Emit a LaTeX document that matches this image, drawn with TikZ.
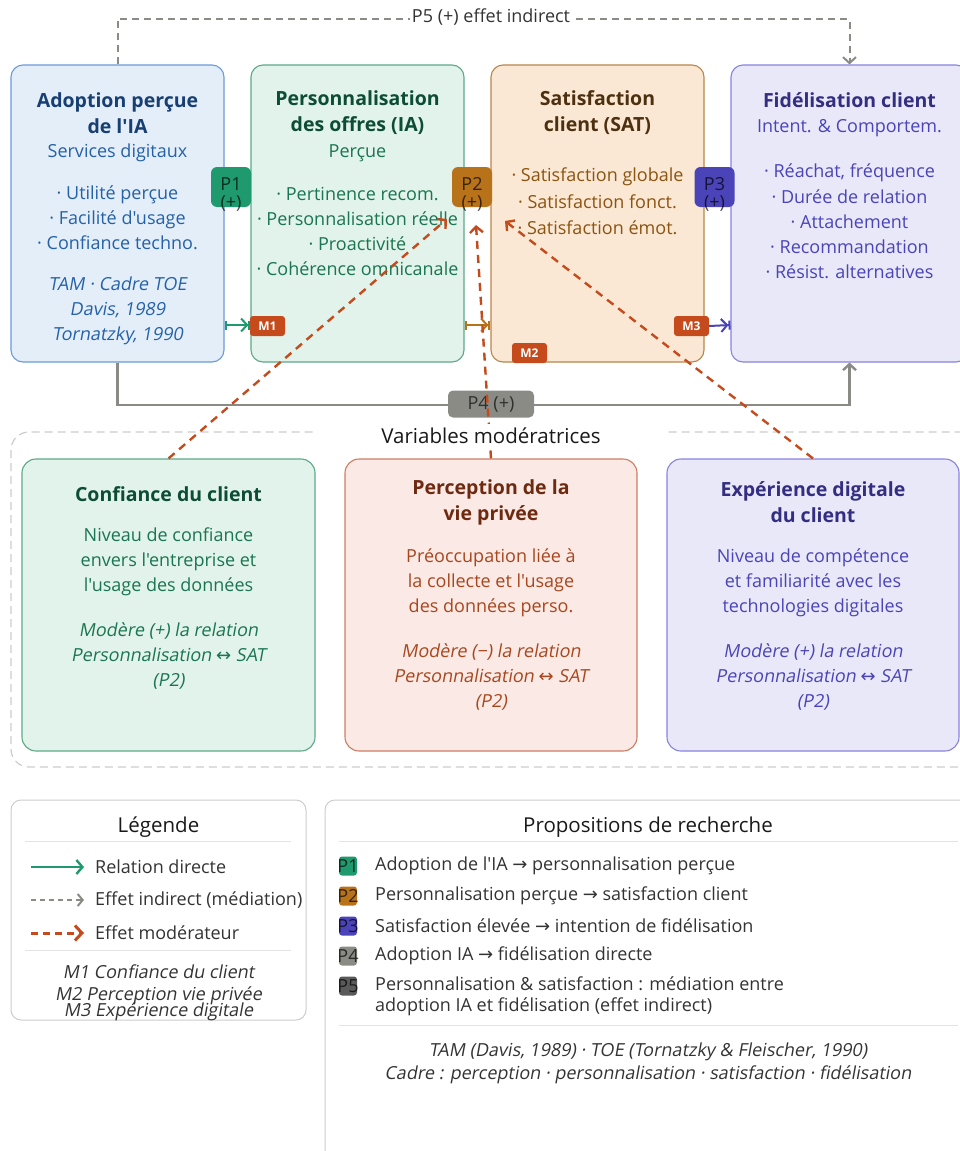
\documentclass[tikz,border=0pt]{standalone}
\usepackage{fontspec}
\newfontfamily\osfont{Open Sans}
\newfontfamily\osslant{Open Sans}[FakeSlant=0.18]
\newfontfamily\arrfont{DejaVu Sans}
\usetikzlibrary{arrows.meta,calc}
\definecolor{cAfill}{HTML}{E4EEF9}
\definecolor{cAdraw}{HTML}{6A9AD8}
\definecolor{cAtit}{HTML}{173F73}
\definecolor{cAtxt}{HTML}{2461A8}
\definecolor{cBfill}{HTML}{E1F3EA}
\definecolor{cBdraw}{HTML}{5CA889}
\definecolor{cBtit}{HTML}{0E4D35}
\definecolor{cBtxt}{HTML}{1B7552}
\definecolor{cCfill}{HTML}{FAE8D4}
\definecolor{cCdraw}{HTML}{B8864A}
\definecolor{cCtit}{HTML}{4D3010}
\definecolor{cCtxt}{HTML}{8B5412}
\definecolor{cDfill}{HTML}{E9E8F8}
\definecolor{cDdraw}{HTML}{8782DD}
\definecolor{cDtit}{HTML}{332E82}
\definecolor{cDtxt}{HTML}{4A44B8}
\definecolor{cPfill}{HTML}{FAE9E4}
\definecolor{cPdraw}{HTML}{CD7D62}
\definecolor{cPtit}{HTML}{6E2A10}
\definecolor{cPtxt}{HTML}{A8471E}
\definecolor{cP1}{HTML}{1E9A6E}
\definecolor{cP2}{HTML}{B8731A}
\definecolor{cP3}{HTML}{4B44B8}
\definecolor{cP4}{HTML}{8A8B84}
\definecolor{cP5}{HTML}{5A5A5A}
\definecolor{cMod}{HTML}{C54A1C}
\definecolor{cGray}{HTML}{8A8B84}
\definecolor{cFrame}{HTML}{CCCCCC}
\definecolor{cSep}{HTML}{E3E3E3}
\definecolor{cDark}{HTML}{333333}
\newcommand\dgTitle{\osfont\fontsize{19.5}{26}\selectfont\bfseries}
\newcommand\dgBody{\osfont\fontsize{18}{25}\selectfont}
\newcommand\dgIt{\osslant\fontsize{18}{25}\selectfont}
\newcommand\dgHead{\osfont\fontsize{20.5}{24}\selectfont}
\newcommand\dgArr[1]{{\arrfont #1}}
\begin{document}
\begin{tikzpicture}[x=1pt,y=-1pt,
  box/.style={draw, rounded corners=12pt, line width=1.1pt, inner sep=0pt},
  txt/.style={align=center, inner sep=0pt},
  pbadge/.style={rounded corners=6pt, minimum width=40pt, minimum height=40pt, inner sep=0pt},
  pbtext/.style={align=center, inner sep=0pt, font=\osfont\fontsize{18}{18}\selectfont, text=black, text opacity=0.7},
  mbadge/.style={fill=cMod, rounded corners=3pt, minimum width=35pt, minimum height=20pt, inner sep=0pt, text=white, font=\osfont\fontsize{12}{12}\selectfont\bfseries},
  modline/.style={draw=cMod, line width=2.4pt, dash pattern=on 8pt off 6pt, -{Straight Barb[length=6pt,width=13pt]}},
  gapline/.style={line width=2pt, {Bar[width=9pt]}-{Straight Barb[length=6pt,width=13pt]Bar[width=9pt]}},
  sqbadge/.style={rounded corners=3pt, minimum width=18pt, minimum height=19pt, inner sep=0pt},
  sqtext/.style={inner sep=0pt, font=\dgBody, text=black, text opacity=0.7},
  legtext/.style={anchor=west, inner sep=0pt, font=\dgBody, text=cDark},
]
\useasboundingbox (0,0) rectangle (960,1151);
\clip (0,0) rectangle (960,1151);

% ---------- main boxes ----------
\node[box, fill=cAfill, draw=cAdraw, minimum width=213pt, minimum height=297pt] (A) at (117.5,213.5) {};
\node[box, fill=cBfill, draw=cBdraw, minimum width=213pt, minimum height=297pt] (B) at (357.5,213.5) {};
\node[box, fill=cCfill, draw=cCdraw, minimum width=213pt, minimum height=297pt] (C) at (597.5,213.5) {};
\node[box, fill=cDfill, draw=cDdraw, minimum width=237pt, minimum height=297pt] (D) at (849.5,213.5) {};

% box A text
\node[txt, font=\dgTitle, text=cAtit] (At) at (117.5,113) {Adoption perçue\\de l'IA};
\node[txt, font=\dgBody, text=cAtxt] (As) at (117.5,153) {Services digitaux};
\node[txt, font=\dgBody, text=cAtxt] (Ab) at (117.5,218) {· Utilité perçue\\· Facilité d'usage\\· Confiance techno.};
\node[txt, font=\dgIt, text=cAtxt] (Ai) at (117.5,311) {TAM · Cadre TOE\\Davis, 1989\\Tornatzky, 1990};
% box B text
\node[txt, font=\dgTitle, text=cBtit] (Bt) at (357.5,113) {Personnalisation\\des offres (IA)};
\node[txt, font=\dgBody, text=cBtxt] (Bs) at (357.5,153) {Perçue};
\node[txt, font=\dgBody, text=cBtxt] (Bb) at (357.5,231) {· Pertinence recom.\\· Personnalisation réelle\\· Proactivité\\· Cohérence omnicanale};
% box C text
\node[txt, font=\dgTitle, text=cCtit] (Ct) at (597.5,113) {Satisfaction\\client (SAT)};
\node[txt, font=\osfont\fontsize{18}{26.5}\selectfont, text=cCtxt] (Cb) at (597.5,201.5) {· Satisfaction globale\\· Satisfaction fonct.\\· Satisfaction émot.};
% box D text
\node[txt, font=\dgTitle, text=cDtit] (Dt) at (849.5,100) {Fidélisation client};
\node[txt, font=\dgBody, text=cDtxt] (Ds) at (849.5,128) {Intent. \& Comportem.};
\node[txt, font=\osfont\fontsize{18}{25.2}\selectfont, text=cDtxt] (Db) at (849.5,221.5) {· Réachat, fréquence\\· Durée de relation\\· Attachement\\· Recommandation\\· Résist. alternatives};

% ---------- P5 indirect (dashed) ----------
\coordinate (p5y) at (0,19);
\draw[cGray, line width=2pt, dash pattern=on 7pt off 5pt, -{Straight Barb[length=6pt,width=13pt]}]
  (A.north) -- (A.north |- p5y) -- (D.north |- p5y) -- (D.north);
\node[fill=white, inner sep=2pt, font=\dgBody, text=cDark] (p5lab) at (491,17) {P5 (+) effet indirect};

% ---------- P4 direct (solid) ----------
\coordinate (p4y) at (0,405);
\draw[cGray, line width=2.4pt, -{Straight Barb[length=6pt,width=13pt]}]
  (A.south) -- (A.south |- p4y) -- (D.south |- p4y) -- (D.south);
\node[fill=cP4, rounded corners=5pt, minimum width=86pt, minimum height=27pt, inner sep=0pt, font=\dgBody, text=black, text opacity=0.65] (p4) at (491,404) {P4 (+)};

% ---------- gap connectors at y=325 ----------
\coordinate (gy) at (0,325);
\draw[gapline, cP1] (A.east |- gy) -- (B.west |- gy);
\draw[gapline, cP2] (B.east |- gy) -- (C.west |- gy);
\node[mbadge] (m1) at (267.5,326) {M1};
\node[mbadge] (m2) at (529.5,353) {M2};
\node[mbadge] (m3) at (691.5,326) {M3};
\draw[cP3, line width=2pt, -{Straight Barb[length=6pt,width=13pt]Bar[width=9pt]}] (m3.east) -- (D.west |- gy);

% ---------- P badges ----------
\node[pbadge, fill=cP1] (p1) at (231,187) {};
\node[pbtext] (p1t) at (231,194) {P1\\(+)};
\node[pbadge, fill=cP2] (p2) at (472,187) {};
\node[pbtext] (p2t) at (472,194) {P2\\(+)};
\node[pbadge, fill=cP3] (p3) at (714.5,187) {};
\node[pbtext] (p3t) at (714.5,194) {P3\\(+)};

% ---------- moderator region ----------
\draw[cFrame, line width=1.2pt, dash pattern=on 8pt off 5pt, rounded corners=18pt] (11,432) rectangle (985,767);
\node[box, fill=cBfill, draw=cBdraw, minimum width=293pt, minimum height=292pt, rounded corners=14pt] (M1) at (168.5,605) {};
\node[box, fill=cPfill, draw=cPdraw, minimum width=292pt, minimum height=292pt, rounded corners=14pt] (M2) at (491,605) {};
\node[box, fill=cDfill, draw=cDdraw, minimum width=292pt, minimum height=292pt, rounded corners=14pt] (M3) at (813,605) {};

\node[txt, font=\dgTitle, text=cBtit] (M1t) at (168.5,494) {Confiance du client};
\node[txt, font=\dgBody, text=cBtxt] (M1b) at (168.5,562) {Niveau de confiance\\envers l'entreprise et\\l'usage des données};
\node[txt, font=\dgIt, text=cBtxt] (M1i) at (168.5,656) {Modère (+) la relation\\Personnalisation \dgArr{↔} SAT\\(P2)};

\node[txt, font=\dgTitle, text=cPtit] (M2t) at (491,502) {Perception de la\\vie privée};
\node[txt, font=\dgBody, text=cPtxt] (M2b) at (491,583) {Préoccupation liée à\\la collecte et l'usage\\des données perso.};
\node[txt, font=\dgIt, text=cPtxt] (M2i) at (491,677) {Modère (−) la relation\\Personnalisation \dgArr{↔} SAT\\(P2)};

\node[txt, font=\dgTitle, text=cDtit] (M3t) at (813,502) {Expérience digitale\\du client};
\node[txt, font=\dgBody, text=cDtxt] (M3b) at (813,583) {Niveau de compétence\\et familiarité avec les\\technologies digitales};
\node[txt, font=\dgIt, text=cDtxt] (M3i) at (813,677) {Modère (+) la relation\\Personnalisation \dgArr{↔} SAT\\(P2)};

% moderator arrows
\coordinate (m1end) at (447,219);
\coordinate (m2end) at (476,225);
\coordinate (m3end) at (505,221);
\draw[modline] (M1.north) -- (m1end);
\draw[modline] (M2.north) -- (m2end);
\draw[modline] (M3.north) -- (m3end);

\node[fill=white, minimum width=353pt, minimum height=24pt, inner sep=0pt, font=\dgHead, text=black!90] (vm) at (491,436) {Variables modératrices};

% ---------- legend ----------
\node[draw=cFrame, line width=1pt, rounded corners=10pt, minimum width=295pt, minimum height=220pt, inner sep=0pt] (L) at (158.5,910) {};
\node[font=\dgHead, text=black!90, inner sep=0pt] (Lt) at (158.5,827) {Légende};
\draw[cSep, line width=0.8pt] (25,841) -- (291,841);
\coordinate (l1a) at (31,867); \coordinate (l1b) at (84,867);
\coordinate (l2a) at (31,900); \coordinate (l2b) at (84,900);
\coordinate (l3a) at (31,933); \coordinate (l3b) at (84,933);
\draw[cP1, line width=2.4pt, -{Straight Barb[length=6pt,width=14pt]}] (l1a) -- (l1b);
\draw[cGray, line width=2pt, dash pattern=on 5pt off 4pt, -{Straight Barb[length=5pt,width=12pt]}] (l2a) -- (l2b);
\draw[cMod, line width=3pt, dash pattern=on 7pt off 5pt, -{Straight Barb[length=7pt,width=15pt]}] (l3a) -- (l3b);
\node[legtext] (lt1) at (95,867) {Relation directe};
\node[legtext] (lt2) at (95,900) {Effet indirect (médiation)};
\node[legtext] (lt3) at (95,933) {Effet modérateur};
\draw[cSep, line width=0.8pt] (25,950) -- (291,950);
\node[txt, font=\dgIt, text=cDark] (lm1) at (158.5,972) {M1 Confiance du client};
\node[txt, font=\dgIt, text=cDark] (lm2) at (158.5,996) {M2 Perception vie privée};
\node[txt, font=\dgIt, text=cDark] (lm3) at (158.5,1012) {M3 Expérience digitale};

% ---------- propositions ----------
\node[draw=cFrame, line width=1pt, rounded corners=10pt, minimum width=660pt, minimum height=380pt, inner sep=0pt] (P) at (655,990) {};
\node[font=\dgHead, text=black!90, inner sep=0pt] (Pt) at (648,827) {Propositions de recherche};
\draw[cSep, line width=0.8pt] (339,841) -- (958,841);
\node[sqbadge, fill=cP1] (q1) at (348,866) {}; \node[sqtext] (q1t) at (348,866) {P1};
\node[sqbadge, fill=cP2] (q2) at (348,896) {}; \node[sqtext] (q2t) at (348,896) {P2};
\node[sqbadge, fill=cP3] (q3) at (348,926) {}; \node[sqtext] (q3t) at (348,926) {P3};
\node[sqbadge, fill=cP4] (q4) at (348,956) {}; \node[sqtext] (q4t) at (348,956) {P4};
\node[sqbadge, fill=cP5] (q5) at (348,986) {}; \node[sqtext] (q5t) at (348,986) {P5};
\node[legtext] (r1) at (375,866) {Adoption de l'IA \dgArr{→} personnalisation perçue};
\node[legtext] (r2) at (375,896) {Personnalisation perçue \dgArr{→} satisfaction client};
\node[legtext] (r3) at (375,926) {Satisfaction élevée \dgArr{→} intention de fidélisation};
\node[legtext] (r4) at (375,956) {Adoption IA \dgArr{→} fidélisation directe};
\node[legtext, align=left, font=\osfont\fontsize{18}{21}\selectfont] (r5) at (375,996.5) {Personnalisation \& satisfaction : médiation entre\\adoption IA et fidélisation (effet indirect)};
\draw[cSep, line width=0.8pt] (339,1025) -- (958,1025);
\node[txt, font=\osslant\fontsize{18}{23}\selectfont, text=cDark] (ref) at (648,1063.5) {TAM (Davis, 1989) · TOE (Tornatzky \& Fleischer, 1990)\\Cadre : perception · personnalisation · satisfaction · fidélisation};
\end{tikzpicture}
\end{document}
